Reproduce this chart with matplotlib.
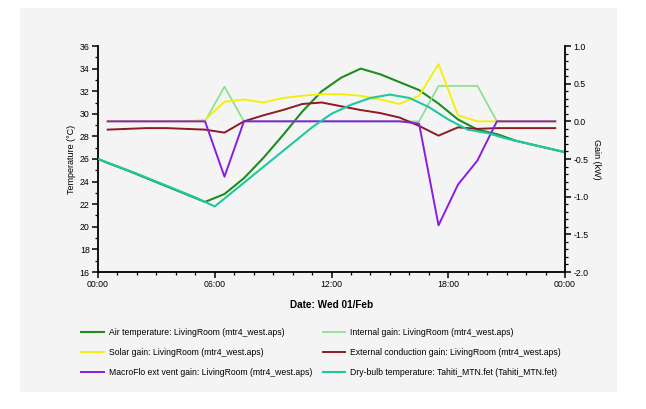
import matplotlib
matplotlib.use("Agg")
import matplotlib.pyplot as plt
from matplotlib.patches import Rectangle
from matplotlib.ticker import MultipleLocator, FixedLocator

plt.rcParams['font.family'] = ['Liberation Sans', 'DejaVu Sans']

# temperaturas (horas enteras / medias horas)
horas_bulbo = list(range(0, 25))
bulbo_seco = [26.0, 25.35, 24.7, 24.0, 23.3, 22.6, 21.8, 23.2, 24.6, 26.0, 27.4, 28.8, 30.0,
              30.8, 31.4, 31.7, 31.4, 30.6, 29.5, 28.6, 28.3, 27.8, 27.4, 27.0, 26.6]

horas_aire = [0] + [h + 0.5 for h in range(24)] + [24]
temp_aire = [26.0, 25.65, 25.0, 24.3, 23.6, 22.9, 22.2, 22.9, 24.3, 26.1, 28.1, 30.2, 32.0,
             33.2, 34.0, 33.5, 32.8, 32.1, 30.9, 29.5, 28.6, 28.2, 27.6, 27.2, 26.8, 26.6]

# ganancias (kW) en medias horas
horas_gan = [h + 0.5 for h in range(24)]
gan_interna = [0, 0, 0, 0, 0, 0, 0.46, 0, 0, 0, 0, 0,
               0, 0, 0, 0, 0, 0.47, 0.47, 0.47, 0, 0, 0, 0]
gan_solar = [0, 0, 0, 0, 0, 0.02, 0.26, 0.29, 0.25, 0.31, 0.34, 0.36,
             0.36, 0.34, 0.29, 0.23, 0.34, 0.76, 0.08, 0.0, 0, 0, 0, 0]
gan_conduccion = [-0.11, -0.10, -0.09, -0.09, -0.10, -0.11, -0.15, 0.0, 0.08, 0.15, 0.23, 0.25,
                  0.20, 0.15, 0.11, 0.05, -0.06, -0.19, -0.08, -0.10, -0.09, -0.09, -0.09, -0.09]
gan_macroflo = [0, 0, 0, 0, 0, 0, -0.735, 0, 0, 0, 0, 0,
                0, 0, 0, 0, -0.03, -1.38, -0.84, -0.52, 0, 0, 0, 0]

etiquetas_x = ["00:00", "06:00", "12:00", "18:00", "00:00"]

fondo = '#f4f4f4'
fig = plt.figure(figsize=(6.46, 4.09), dpi=100)
fig.patch.set_facecolor('white')
fig.patches.append(Rectangle((20 / 646, 1 - 392 / 409), 597 / 646, 384 / 409,
                             transform=fig.transFigure, facecolor=fondo, edgecolor='none', zorder=-10))

ax = fig.add_axes([98 / 646, 1 - 272 / 409, 467 / 646, 226 / 409])
ax.set_facecolor(fondo)
ax2 = ax.twinx()
ax2.patch.set_visible(False)

l_aire, = ax.plot(horas_aire, temp_aire, color='#1e8c1e', lw=1.5,
                  label="Air temperature: LivingRoom (mtr4_west.aps)")
l_int, = ax2.plot(horas_gan, gan_interna, color='#86e08a', lw=1.2,
                  label="Internal gain: LivingRoom (mtr4_west.aps)")
l_sol, = ax2.plot(horas_gan, gan_solar, color='#f2f000', lw=1.3,
                  label="Solar gain: LivingRoom (mtr4_west.aps)")
l_ext, = ax2.plot(horas_gan, gan_conduccion, color='#8e1a22', lw=1.4,
                  label="External conduction gain: LivingRoom (mtr4_west.aps)")
l_mac, = ax2.plot(horas_gan, gan_macroflo, color='#8a1ee0', lw=1.4,
                  label="MacroFlo ext vent gain: LivingRoom (mtr4_west.aps)")
# el bulbo seco va en el eje de temperatura, convertido a la escala del eje derecho para dibujarlo encima
l_bs, = ax2.plot(horas_bulbo, [(t - 36) * 3 / 20 + 1 for t in bulbo_seco], color='#1ec8a0', lw=1.5,
                 label="Dry-bulb temperature: Tahiti_MTN.fet (Tahiti_MTN.fet)")

ax.set_xlim(0, 24)
ax.set_ylim(16, 36)
ax2.set_ylim(-2.0, 1.0)

ax.xaxis.set_major_locator(FixedLocator([0, 6, 12, 18, 24]))
ax.set_xticklabels(etiquetas_x)
ax.xaxis.set_minor_locator(MultipleLocator(1))
ax.yaxis.set_major_locator(MultipleLocator(2))
ax.yaxis.set_minor_locator(MultipleLocator(1))
ax2.yaxis.set_major_locator(MultipleLocator(0.5))
ax2.yaxis.set_minor_locator(MultipleLocator(0.1))
ax2.set_yticklabels([f"{v:.1f}" for v in ax2.get_yticks()])

for a in (ax, ax2):
    a.spines['top'].set_visible(False)
    for lado in ('left', 'right', 'bottom'):
        a.spines[lado].set_linewidth(1.3)
    a.tick_params(which='major', length=4, width=1.1, labelsize=6.3, pad=2)
    a.tick_params(which='minor', length=2.5, width=0.9)
ax.spines['right'].set_visible(False)
ax2.spines['left'].set_visible(False)
ax2.spines['bottom'].set_visible(False)

ax.set_ylabel("Temperature (°C)", fontsize=6.5, labelpad=3)
ax2.set_ylabel("Gain (kW)", fontsize=6.5, rotation=270, labelpad=9)
ax.set_xlabel("Date: Wed 01/Feb", fontsize=7.2, fontweight='bold', labelpad=8)

manejadores = [l_aire, l_sol, l_mac, l_int, l_ext, l_bs]
fig.legend(handles=manejadores, labels=[h.get_label() for h in manejadores],
           loc='upper left', bbox_to_anchor=(78 / 646, 1 - 325 / 409), ncol=2,
           frameon=False, fontsize=6.2, handlelength=2.6, handletextpad=0.6,
           labelspacing=1.25, columnspacing=1.2, borderaxespad=0)

fig.savefig("out.png", dpi=100, facecolor='white')
